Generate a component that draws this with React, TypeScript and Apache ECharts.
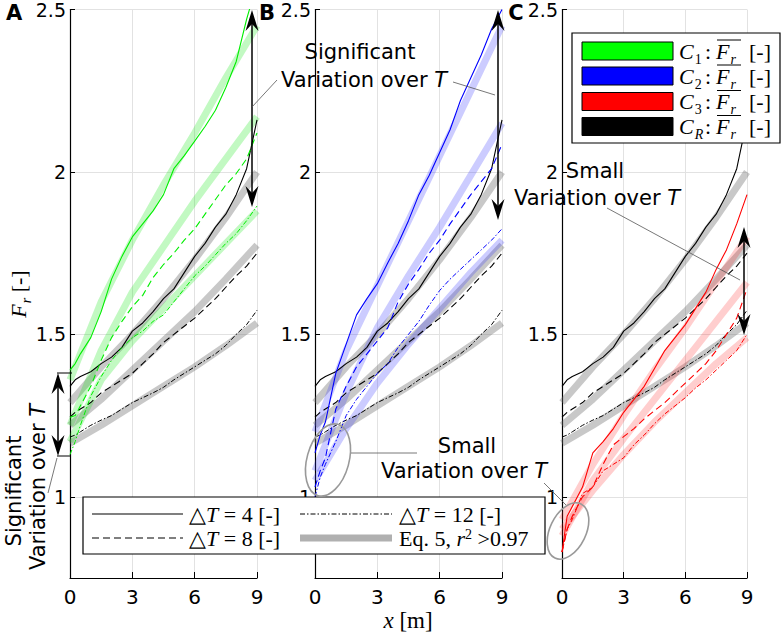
import React, { useEffect, useRef } from "react";
import * as echarts from "echarts";

// ---- data ----
const xs = [0, 0.25, 0.5, 1, 1.5, 2, 2.5, 3, 3.5, 4, 4.5, 5, 5.5, 6, 6.5, 7, 7.5, 8, 8.5, 9];
const fitXs = [0, 1.5, 3, 4.5, 6, 7.5, 9];

const CR_T4 = [1.34, 1.36, 1.37, 1.385, 1.41, 1.43, 1.46, 1.51, 1.535, 1.57, 1.61, 1.64, 1.69, 1.74, 1.78, 1.83, 1.87, 1.93, 2.01, 2.16];
const CR_T8 = [1.245, 1.26, 1.27, 1.29, 1.32, 1.34, 1.36, 1.38, 1.41, 1.44, 1.475, 1.5, 1.525, 1.55, 1.58, 1.61, 1.645, 1.68, 1.71, 1.75];
const CR_T12 = [1.184, 1.19, 1.2, 1.22, 1.236, 1.25, 1.27, 1.29, 1.305, 1.32, 1.337, 1.36, 1.38, 1.4, 1.42, 1.44, 1.466, 1.5, 1.53, 1.574];

const C1_T4 = [1.39, 1.41, 1.44, 1.49, 1.57, 1.67, 1.74, 1.8, 1.84, 1.88, 1.93, 2.01, 2.05, 2.095, 2.14, 2.19, 2.26, 2.34, 2.47, 2.58];
const C1_T8 = [1.245, 1.25, 1.28, 1.34, 1.42, 1.49, 1.54, 1.585, 1.62, 1.675, 1.715, 1.75, 1.79, 1.825, 1.87, 1.915, 1.96, 1.995, 2.04, 2.12];
const C1_T12 = [1.13, 1.17, 1.22, 1.31, 1.37, 1.42, 1.46, 1.49, 1.51, 1.54, 1.56, 1.6, 1.64, 1.68, 1.71, 1.745, 1.78, 1.81, 1.85, 1.895];

const C2_T4 = [1.135, 1.19, 1.23, 1.38, 1.47, 1.56, 1.61, 1.656, 1.72, 1.78, 1.85, 1.93, 1.99, 2.06, 2.13, 2.22, 2.29, 2.36, 2.44, 2.5];
const C2_T8 = [1.03, 1.08, 1.12, 1.27, 1.34, 1.4, 1.44, 1.48, 1.52, 1.6, 1.655, 1.7, 1.75, 1.79, 1.84, 1.885, 1.93, 1.97, 2.01, 2.085];
const C2_T12 = [1.0, 1.06, 1.1, 1.17, 1.25, 1.3, 1.34, 1.38, 1.41, 1.46, 1.5, 1.54, 1.59, 1.635, 1.67, 1.7, 1.73, 1.76, 1.79, 1.825];

const C3_T4 = [0.83, 0.94, 0.97, 1.03, 1.135, 1.17, 1.21, 1.26, 1.3, 1.34, 1.395, 1.45, 1.49, 1.53, 1.58, 1.63, 1.7, 1.76, 1.84, 1.93];
const C3_T8 = [0.83, 0.9, 0.94, 1.0, 1.03, 1.1, 1.16, 1.185, 1.21, 1.24, 1.265, 1.29, 1.32, 1.35, 1.38, 1.41, 1.45, 1.5, 1.55, 1.64];
const C3_T12 = [0.83, 0.9, 0.93, 1.01, 1.03, 1.08, 1.1, 1.12, 1.16, 1.19, 1.225, 1.255, 1.28, 1.305, 1.335, 1.36, 1.39, 1.42, 1.45, 1.5];

const CR_F4 = [1.29, 1.4, 1.5, 1.61, 1.73, 1.86, 2.0];
const CR_F8 = [1.22, 1.3, 1.39, 1.48, 1.57, 1.67, 1.775];
const CR_F12 = [1.165, 1.22, 1.28, 1.34, 1.4, 1.465, 1.535];
const C1_F4 = [1.36, 1.6, 1.79, 1.96, 2.12, 2.29, 2.45];
const C1_F8 = [1.22, 1.45, 1.63, 1.77, 1.91, 2.04, 2.17];
const C1_F12 = [1.17, 1.36, 1.48, 1.58, 1.68, 1.78, 1.88];
const C2_F4 = [1.2, 1.45, 1.65, 1.85, 2.05, 2.25, 2.45];
const C2_F8 = [1.08, 1.32, 1.52, 1.68, 1.83, 1.99, 2.15];
const C2_F12 = [1.05, 1.21, 1.35, 1.47, 1.58, 1.69, 1.79];
const C3_F4 = [0.93, 1.1, 1.25, 1.39, 1.52, 1.66, 1.8];
const C3_F8 = [0.88, 1.05, 1.18, 1.3, 1.42, 1.54, 1.66];
const C3_F12 = [0.9, 1.02, 1.13, 1.23, 1.32, 1.41, 1.49];

const yTicks = [1, 1.5, 2, 2.5];
const panelLetters = ["A", "B", "C"];
const legendSubs = ["1", "2", "3", "R"];

const SANS = "DejaVu Sans";
const SERIF = "Liberation Serif";
const DASHED = [7, 4];
const DASHDOT = [5, 2, 1.5, 2];

const panels = [
  { color: "#00ee00", fit: "rgba(0,230,0,0.24)", t4: C1_T4, t8: C1_T8, t12: C1_T12, f4: C1_F4, f8: C1_F8, f12: C1_F12 },
  { color: "#0000ff", fit: "rgba(40,40,255,0.24)", t4: C2_T4, t8: C2_T8, t12: C2_T12, f4: C2_F4, f8: C2_F8, f12: C2_F12 },
  { color: "#ff0000", fit: "rgba(255,30,30,0.22)", t4: C3_T4, t8: C3_T8, t12: C3_T12, f4: C3_F4, f8: C3_F8, f12: C3_F12 },
];

const grids = [
  { left: 70, top: 9, width: 187, height: 569 },
  { left: 315, top: 9, width: 187, height: 569 },
  { left: 562, top: 9, width: 185, height: 569 },
];

function pairs(x: number[], y: number[]) {
  return x.map((v, i) => [v, y[i]]);
}

function line(name: string, idx: number, x: number[], y: number[], color: string, width: number, type: any, z: number) {
  return {
    name,
    type: "line",
    xAxisIndex: idx,
    yAxisIndex: idx,
    data: pairs(x, y),
    showSymbol: false,
    symbol: "none",
    silent: true,
    clip: true,
    z,
    lineStyle: { color, width, type, cap: "butt", join: "round" },
  };
}

const GRAY_FIT = "rgba(110,110,110,0.38)";

function buildSeries() {
  const s: any[] = [];
  panels.forEach((p, i) => {
    s.push(line("CRf4", i, fitXs, CR_F4, GRAY_FIT, 7, "solid", 1));
    s.push(line("CRf8", i, fitXs, CR_F8, GRAY_FIT, 7, "solid", 1));
    s.push(line("CRf12", i, fitXs, CR_F12, GRAY_FIT, 7, "solid", 1));
    s.push(line("Cf4", i, fitXs, p.f4, p.fit, 7, "solid", 1));
    s.push(line("Cf8", i, fitXs, p.f8, p.fit, 7, "solid", 1));
    s.push(line("Cf12", i, fitXs, p.f12, p.fit, 7, "solid", 1));
    s.push(line("CR4", i, xs, CR_T4, "#000", 1.1, "solid", 2));
    s.push(line("CR8", i, xs, CR_T8, "#000", 1.1, DASHED, 2));
    s.push(line("CR12", i, xs, CR_T12, "#000", 1, DASHDOT, 2));
    s.push(line("C4", i, xs, p.t4, p.color, 1.1, "solid", 3));
    s.push(line("C8", i, xs, p.t8, p.color, 1.1, DASHED, 3));
    s.push(line("C12", i, xs, p.t12, p.color, 1, DASHDOT, 3));
  });
  return s;
}

function txt(x: number, y: number, text: string, opts: any = {}) {
  return {
    type: "text",
    x,
    y,
    rotation: opts.rotation || 0,
    z: 100,
    silent: true,
    style: {
      text,
      fontFamily: opts.fontFamily || SANS,
      fontSize: opts.fontSize || 21,
      fontWeight: opts.fontWeight || "normal",
      fontStyle: opts.fontStyle || "normal",
      fill: "#000",
      align: opts.align || "center",
      verticalAlign: opts.verticalAlign || "middle",
      rich: opts.rich,
    },
  };
}

function seg(x1: number, y1: number, x2: number, y2: number, stroke = "#000", lineWidth = 1, lineDash: any = null) {
  return {
    type: "line",
    z: 100,
    silent: true,
    shape: { x1, y1, x2, y2 },
    style: { stroke, lineWidth, lineDash },
  };
}

function head(x: number, tipY: number, dir: number) {
  const h = 21, w = 6.5, notch = 14;
  return {
    type: "polygon",
    z: 101,
    silent: true,
    shape: {
      points: [
        [x, tipY],
        [x - w, tipY - dir * h],
        [x, tipY - dir * notch],
        [x + w, tipY - dir * h],
      ],
    },
    style: { fill: "#000" },
  };
}

function dblArrow(x: number, y1: number, y2: number) {
  return [seg(x, y1 + 8, x, y2 - 8, "#000", 1.5), head(x, y1, -1), head(x, y2, 1)];
}

const sansRich = {
  n: { fontFamily: SANS, fontSize: 21 },
  i: { fontFamily: SANS, fontSize: 21, fontStyle: "italic" },
};
const serifRich = (size: number) => ({
  n: { fontFamily: SERIF, fontSize: size },
  i: { fontFamily: SERIF, fontSize: size, fontStyle: "italic" },
  sub: { fontFamily: SERIF, fontSize: Math.round(size * 0.65), fontStyle: "italic", verticalAlign: "bottom", padding: [0, 0, -4, 1] },
  subn: { fontFamily: SERIF, fontSize: Math.round(size * 0.65), verticalAlign: "bottom", padding: [0, 0, -4, 1] },
  sup: { fontFamily: SERIF, fontSize: Math.round(size * 0.65), verticalAlign: "top" },
});

function buildGraphics() {
  const g: any[] = [];
  // panel letters
  [14, 267, 516].forEach((x, i) => g.push(txt(x, 13, panelLetters[i], { fontWeight: "bold", fontSize: 21 })));

  // axis titles
  g.push(txt(18, 294, "{i|F}{sub|r}{n| [-]}", { rotation: Math.PI / 2, rich: serifRich(22) }));
  g.push(txt(408, 620, "{i|x}{n| [m]}", { rich: serifRich(23) }));

  // panel A / B significant variation annotation
  g.push(...dblArrow(252, 10, 207));
  g.push(...dblArrow(498, 10, 220));
  g.push(txt(360, 52, "Significant"));
  g.push(txt(364, 80, "{n|Variation over }{i|T}", { rich: sansRich }));
  g.push(seg(277, 80, 252, 107, "#555", 0.8));
  g.push(seg(453, 82, 495, 95, "#555", 0.8));

  // left annotation panel A
  g.push(...dblArrow(58, 373, 456));
  g.push(seg(57, 373, 72, 373, "#000", 1));
  g.push(seg(57, 456, 70, 456, "#000", 1));
  g.push(seg(57, 458, 48, 493, "#555", 0.8));
  g.push(txt(14, 491, "Significant", { rotation: Math.PI / 2 }));
  g.push(txt(38, 487, "{n|Variation over }{i|T}", { rotation: Math.PI / 2, rich: sansRich }));

  // panel B small variation
  g.push({
    type: "ellipse", x: 328, y: 460, rotation: -0.27, z: 100, silent: true,
    shape: { cx: 0, cy: 0, rx: 21, ry: 37 },
    style: { fill: "none", stroke: "#999", lineWidth: 1.6 },
  });
  g.push(seg(351, 453, 417, 453, "#555", 0.8));
  g.push(txt(467, 446, "Small"));
  g.push(txt(464, 471, "{n|Variation over }{i|T}", { rich: sansRich }));
  g.push(seg(544, 483, 566, 505, "#555", 0.8));
  g.push({
    type: "ellipse", x: 568, y: 531, rotation: -0.45, z: 100, silent: true,
    shape: { cx: 0, cy: 0, rx: 18, ry: 30 },
    style: { fill: "none", stroke: "#999", lineWidth: 1.6 },
  });

  // panel C small variation
  g.push(txt(595, 171, "Small"));
  g.push(txt(597, 198, "{n|Variation over }{i|T}", { rich: sansRich }));
  g.push(seg(607, 208, 740, 280, "#555", 0.8));
  g.push(...dblArrow(744, 227, 335));

  // bottom legend
  g.push({ type: "rect", z: 99, silent: true, shape: { x: 83, y: 497, width: 462, height: 57 }, style: { fill: "#fff", stroke: "#000", lineWidth: 1.2 } });
  g.push(seg(92, 514, 183, 514, "#000", 1.1));
  g.push(seg(92, 538, 183, 538, "#000", 1.1, DASHED));
  g.push(seg(300, 514, 392, 514, "#000", 1, DASHDOT));
  g.push(seg(300, 538, 392, 538, "#b0b0b0", 7));
  const lr = serifRich(22);
  g.push(txt(189, 514, "{n|△}{i|T}{n| = 4 [-]}", { align: "left", rich: lr }));
  g.push(txt(189, 538, "{n|△}{i|T}{n| = 8 [-]}", { align: "left", rich: lr }));
  g.push(txt(399, 514, "{n|△}{i|T}{n| = 12 [-]}", { align: "left", rich: lr }));
  g.push(txt(399, 538, "{n|Eq. 5, }{i|r}{sup|2}{n| >0.97}", { align: "left", rich: lr }));

  // top-right legend (panel C)
  g.push({ type: "rect", z: 99, silent: true, shape: { x: 572, y: 33, width: 208, height: 110 }, style: { fill: "#fff", stroke: "#000", lineWidth: 1.2 } });
  const rowY = [51, 76, 101.5, 126.5];
  const fills = ["#00ff00", "#0000ff", "#ff0000", "#000000"];
  rowY.forEach((y, k) => {
    g.push({ type: "rect", z: 100, silent: true, shape: { x: 582, y: y - 9, width: 91, height: 18 }, style: { fill: fills[k], stroke: "#000", lineWidth: 1 } });
    const subTag = legendSubs[k] === "R" ? "sub" : "subn";
    g.push(txt(679, y, `{i|C}{${subTag}|${legendSubs[k]}}`, { align: "left", rich: serifRich(22) }));
    g.push(txt(708, y, ":", { fontFamily: SERIF, fontSize: 22 }));
    g.push(txt(716, y, "{i|F}{sub|r}", { align: "left", rich: serifRich(22) }));
    g.push(seg(717, y - 11, 741, y - 11, "#000", 1));
    g.push(txt(749, y, "[-]", { align: "left", fontFamily: SERIF, fontSize: 22 }));
  });
  return g;
}

export default function App() {
  const ref = useRef<HTMLDivElement>(null);
  useEffect(() => {
    if (!ref.current) return;
    const chart = echarts.init(ref.current, undefined, { renderer: "svg" });
    const option: any = {
      animation: false,
      backgroundColor: "#fff",
      grid: grids,
      xAxis: grids.map((_, i) => ({
        type: "value",
        gridIndex: i,
        min: 0,
        max: 9,
        interval: 3,
        axisLine: { show: true, onZero: false, lineStyle: { color: "#000", width: 1.2 } },
        axisTick: { show: true, inside: true, length: 6, lineStyle: { color: "#000" } },
        axisLabel: { fontFamily: SANS, fontSize: 20, color: "#000", margin: 9 },
        splitLine: { show: true, lineStyle: { color: "#e2e2e2", width: 1 } },
      })),
      yAxis: grids.map((_, i) => ({
        type: "value",
        gridIndex: i,
        min: 0.75,
        max: 2.5,
        axisLine: { show: true, onZero: false, lineStyle: { color: "#000", width: 1.2 } },
        axisTick: { show: true, inside: true, length: 5, customValues: yTicks, lineStyle: { color: "#000" } },
        axisLabel: { customValues: yTicks, fontFamily: SANS, fontSize: 19, lineHeight: 16, color: "#000", margin: 4 },
        splitLine: { show: true, lineStyle: { color: "#e2e2e2", width: 1 } },
      })),
      series: buildSeries(),
      graphic: buildGraphics(),
    };
    chart.setOption(option);
    return () => chart.dispose();
  }, []);
  return <div ref={ref} style={{ position: "fixed", left: 0, top: 0, width: 782, height: 637 }} />;
}
